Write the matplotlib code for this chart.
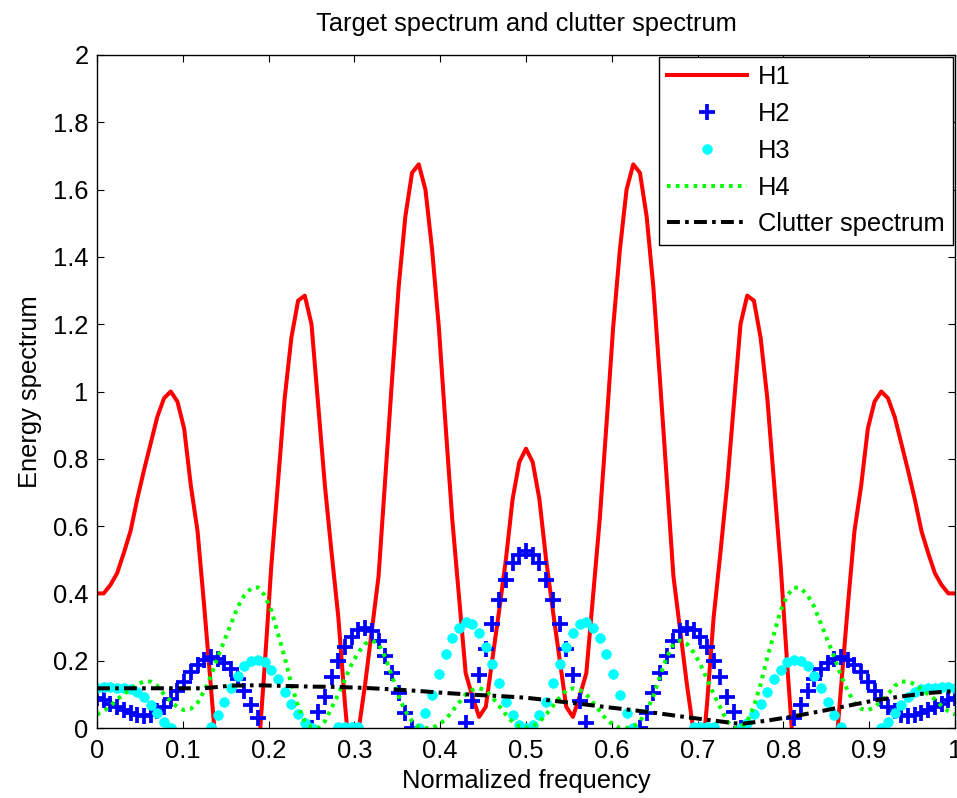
import numpy as np
import matplotlib
matplotlib.use("Agg")
import matplotlib.pyplot as plt

plt.rcParams['font.family'] = ['Liberation Sans', 'DejaVu Sans']

# normalized frequency grid (129 samples, step 1/128)
freq = np.linspace(0.0, 1.0, 129)

h1 = [0.40, 0.40, 0.425, 0.46, 0.52, 0.585, 0.68, 0.765, 0.845, 0.925, 0.98, 1.00, 0.97, 0.89, 0.72, 0.585,
      0.36, 0.12, -0.12, -0.2, -0.25, -0.25, -0.25, -0.2, -0.1, 0.18, 0.48, 0.73, 0.98, 1.16, 1.27, 1.285,
      1.20, 0.96, 0.72, 0.52, 0.33, 0.07, -0.15, -0.01, 0.13, 0.29, 0.45, 0.74, 1.03, 1.31, 1.52, 1.65,
      1.675, 1.60, 1.42, 1.19, 0.90, 0.62, 0.39, 0.163, 0.094, 0.033, 0.063, 0.206, 0.35, 0.50, 0.68, 0.79,
      0.83,
      0.79, 0.68, 0.50, 0.35, 0.206, 0.063, 0.033, 0.094, 0.163, 0.39, 0.62, 0.90, 1.19, 1.42, 1.60,
      1.675, 1.65, 1.52, 1.31, 1.03, 0.74, 0.45, 0.29, 0.13, -0.01, -0.15, 0.07, 0.33, 0.52, 0.72, 0.96,
      1.20, 1.285, 1.27, 1.16, 0.98, 0.73, 0.48, 0.18, -0.1, -0.2, -0.25, -0.25, -0.25, -0.2, -0.12, 0.12,
      0.36, 0.585, 0.72, 0.89, 0.97, 1.00, 0.98, 0.925, 0.845, 0.765, 0.68, 0.585, 0.52, 0.46, 0.425, 0.40,
      0.40]

h2 = [0.088, 0.082, 0.072, 0.062, 0.054, 0.046, 0.040, 0.037, 0.040, 0.050, 0.063, 0.085, 0.110, 0.138, 0.165, 0.187,
      0.203, 0.212, 0.205, 0.193, 0.175, 0.145, 0.110, 0.068, 0.030, -0.05, -0.1, -0.1, -0.1, -0.1, -0.1, -0.05,
      0.0, 0.048, 0.093, 0.152, 0.200, 0.242, 0.271, 0.290, 0.296, 0.288, 0.260, 0.213, 0.162, 0.105, 0.045, 0.0,
      -0.05, -0.1, -0.1, -0.1, -0.1, -0.1, -0.05, 0.014, 0.080, 0.157, 0.235, 0.310, 0.380, 0.440, 0.490, 0.515,
      0.525,
      0.515, 0.490, 0.440, 0.380, 0.310, 0.235, 0.157, 0.080, 0.014, -0.05, -0.1, -0.1, -0.1, -0.1, -0.1, -0.05,
      0.0, 0.045, 0.105, 0.162, 0.213, 0.260, 0.288, 0.296, 0.290, 0.271, 0.242, 0.200, 0.152, 0.093, 0.048, 0.0,
      -0.05, -0.1, -0.1, -0.1, -0.1, -0.1, -0.05, 0.030, 0.068, 0.110, 0.145, 0.175, 0.193, 0.205, 0.212, 0.203,
      0.187, 0.165, 0.138, 0.110, 0.085, 0.063, 0.050, 0.040, 0.037, 0.040, 0.046, 0.054, 0.062, 0.072, 0.082,
      0.088]

h3 = [0.120, 0.121, 0.121, 0.120, 0.120, 0.117, 0.108, 0.093, 0.068, 0.044, 0.019, 0.0, -0.05, -0.1, -0.1, -0.1,
      -0.05, 0.004, 0.039, 0.078, 0.118, 0.155, 0.184, 0.200, 0.201, 0.197, 0.172, 0.145, 0.108, 0.071, 0.042, 0.014,
      0.0, -0.05, -0.05, -0.05, 0.002, 0.002, 0.002, 0.002, -0.05, -0.1, -0.1, -0.1, -0.1, -0.1, -0.1, -0.05,
      0.0, 0.044, 0.098, 0.160, 0.220, 0.266, 0.296, 0.315, 0.308, 0.283, 0.240, 0.190, 0.135, 0.078, 0.039, 0.009,
      0.0,
      0.009, 0.039, 0.078, 0.135, 0.190, 0.240, 0.283, 0.308, 0.315, 0.296, 0.266, 0.220, 0.160, 0.098, 0.044, 0.0,
      -0.05, -0.1, -0.1, -0.1, -0.1, -0.1, -0.1, -0.05, 0.002, 0.002, 0.002, 0.002, -0.05, -0.05, -0.05, 0.0,
      0.014, 0.042, 0.071, 0.108, 0.145, 0.172, 0.197, 0.201, 0.200, 0.184, 0.155, 0.118, 0.078, 0.039, 0.004, -0.05,
      -0.1, -0.1, -0.1, -0.05, 0.0, 0.019, 0.044, 0.068, 0.093, 0.108, 0.117, 0.120, 0.120, 0.121, 0.121,
      0.120]

h4 = [0.040, 0.050, 0.065, 0.085, 0.100, 0.115, 0.130, 0.138, 0.138, 0.125, 0.100, 0.080, 0.062, 0.053, 0.057, 0.075,
      0.110, 0.155, 0.210, 0.260, 0.310, 0.360, 0.395, 0.415, 0.418, 0.395, 0.350, 0.280, 0.210, 0.130, 0.065, 0.020,
      0.002, 0.0, 0.020, 0.060, 0.100, 0.145, 0.190, 0.225, 0.250, 0.260, 0.250, 0.210, 0.155, 0.095, 0.050, 0.020,
      0.004, 0.0, 0.0, 0.010, 0.025, 0.050, 0.075, 0.100, 0.113, 0.118, 0.112, 0.090, 0.065, 0.040, 0.018, 0.005,
      0.0,
      0.005, 0.018, 0.040, 0.065, 0.090, 0.112, 0.118, 0.113, 0.100, 0.075, 0.050, 0.025, 0.010, 0.0, 0.0,
      0.004, 0.020, 0.050, 0.095, 0.155, 0.210, 0.250, 0.260, 0.250, 0.225, 0.190, 0.145, 0.100, 0.060, 0.020, 0.0,
      0.002, 0.020, 0.065, 0.130, 0.210, 0.280, 0.350, 0.395, 0.418, 0.415, 0.395, 0.360, 0.310, 0.260, 0.210, 0.155,
      0.110, 0.075, 0.057, 0.053, 0.062, 0.080, 0.100, 0.125, 0.138, 0.138, 0.130, 0.115, 0.100, 0.085, 0.065, 0.050,
      0.040]

# clutter spectrum (coarser sampling, step 1/32)
clutter_freq = np.linspace(0.0, 1.0, 33)
clutter = [0.118, 0.118, 0.118, 0.118, 0.118, 0.126, 0.127, 0.125, 0.123, 0.122, 0.119, 0.115, 0.110, 0.104,
           0.099, 0.095, 0.090, 0.081, 0.072, 0.062, 0.053, 0.043, 0.032, 0.022, 0.012, 0.022, 0.035, 0.050,
           0.066, 0.082, 0.094, 0.104, 0.110]

labels = ['H1', 'H2', 'H3', 'H4', 'Clutter spectrum']
title = 'Target spectrum and clutter spectrum'
xlabel = 'Normalized frequency'
ylabel = 'Energy spectrum'
xticks = [0, 0.1, 0.2, 0.3, 0.4, 0.5, 0.6, 0.7, 0.8, 0.9, 1]
xticklabels = ['0', '0.1', '0.2', '0.3', '0.4', '0.5', '0.6', '0.7', '0.8', '0.9', '1']
yticks = [0, 0.2, 0.4, 0.6, 0.8, 1.0, 1.2, 1.4, 1.6, 1.8, 2.0]
yticklabels = ['0', '0.2', '0.4', '0.6', '0.8', '1', '1.2', '1.4', '1.6', '1.8', '2']

FS = 18.4
fig = plt.figure(figsize=(9.57, 7.98), dpi=100)
ax = fig.add_axes([97 / 957, 70 / 798, (955 - 97) / 957, (728 - 55) / 798])

lw = 2.9
ax.plot(freq, h1, color='#ff0000', lw=lw, label=labels[0])
ax.plot(freq, h2, linestyle='none', marker='+', color='#0000ff', ms=11, mew=2.7, label=labels[1])
ax.plot(freq, h3, linestyle='none', marker='o', color='#00ffff', mec='#00ffff', ms=7.0, mew=0.5, label=labels[2])
ax.plot(freq, h4, color='#00ff00', lw=lw, dashes=(0.9, 1.3), label=labels[3])
ax.plot(clutter_freq, clutter, color='black', lw=lw, dashes=(3.2, 1.3, 0.9, 1.3), label=labels[4])

ax.set_xlim(0, 1)
ax.set_ylim(0, 2)
ax.set_xticks(xticks)
ax.set_xticklabels(xticklabels)
ax.set_yticks(yticks)
ax.set_yticklabels(yticklabels)
ax.tick_params(direction='in', length=5, width=0.8, top=True, right=True, labelsize=FS, pad=6)
ax.tick_params(axis='x', pad=8)
for s in ax.spines.values():
    s.set_linewidth(1.0)

ax.set_title(title, fontsize=FS, pad=17)
ax.set_xlabel(xlabel, fontsize=FS, labelpad=4)
ax.set_ylabel(ylabel, fontsize=FS, labelpad=8)

leg = ax.legend(loc='upper right', bbox_to_anchor=(1.0, 1.0), borderaxespad=0.08, fontsize=FS,
                frameon=True, fancybox=False, framealpha=1, edgecolor='black', numpoints=1,
                handlelength=3.1, handletextpad=0.45, labelspacing=0.5, borderpad=0.32)
leg.get_frame().set_linewidth(1.0)

fig.savefig('out.png', dpi=100)
